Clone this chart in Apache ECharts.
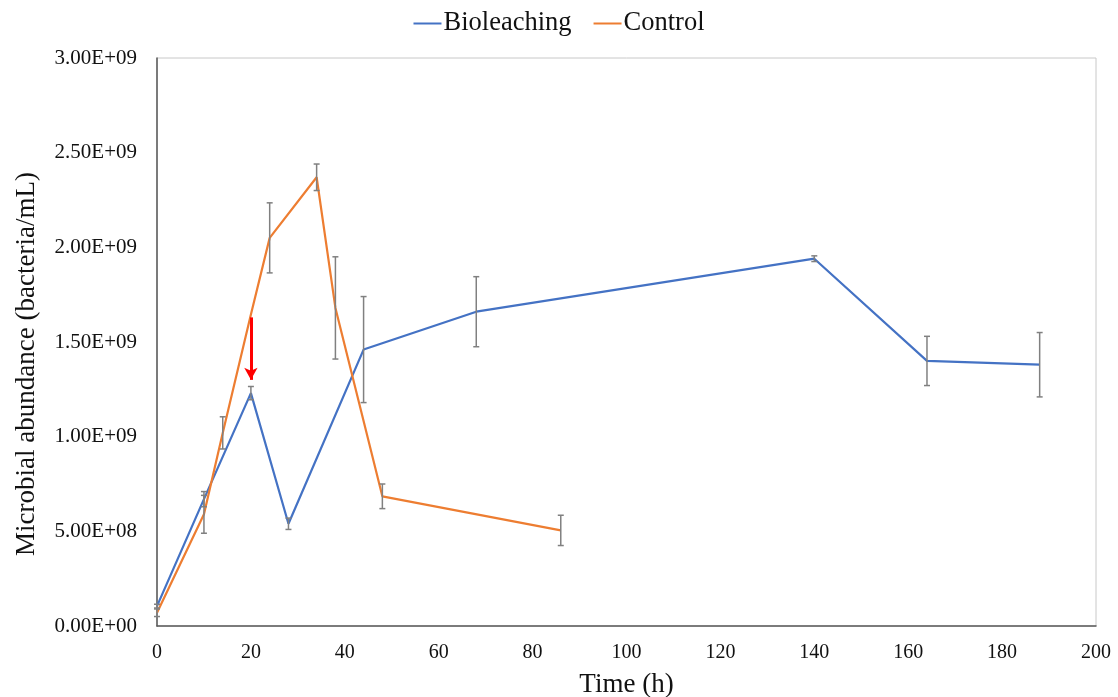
<!DOCTYPE html>
<html>
<head>
<meta charset="utf-8">
<script src="https://cdn.jsdelivr.net/npm/echarts@6/dist/echarts.min.js"></script>
<style>html,body{margin:0;padding:0;background:#fff;}#main{width:1118px;height:697px;}</style>
</head>
<body>
<div id="main"></div>
<script>
// Data (time in h, abundance in bacteria/mL)
var bioTime  = [0, 10, 20, 28, 44, 68, 140, 164, 188];
var bioValue = [1.05e8, 6.7e8, 1.23e9, 5.4e8, 1.46e9, 1.66e9, 1.94e9, 1.40e9, 1.38e9];
var bioErr   = [1.0e7, 4.0e7, 3.5e7, 3.0e7, 2.8e8, 1.85e8, 1.5e7, 1.3e8, 1.7e8];

var ctrlTime  = [0, 10, 14, 20, 24, 34, 38, 48, 86];
var ctrlValue = [7.0e7, 5.9e8, 1.02e9, 1.645e9, 2.05e9, 2.37e9, 1.68e9, 6.85e8, 5.05e8];
var ctrlErr   = [2.0e7, 1.0e8, 8.5e7, 0, 1.85e8, 7.0e7, 2.7e8, 6.5e7, 8.0e7];

var xTicks = [0, 20, 40, 60, 80, 100, 120, 140, 160, 180, 200];
var yTickLabels = ['0.00E+00','5.00E+08','1.00E+09','1.50E+09','2.00E+09','2.50E+09','3.00E+09'];

// Arrow annotation (at t = 20 h)
var arrowTime = 20, arrowFrom = 1.63e9, arrowTo = 1.30e9;

function pairs(t, v){ return t.map(function(x,i){ return [x, v[i]]; }); }
function errData(t, v, e){ return t.map(function(x,i){ return [x, v[i]-e[i], v[i]+e[i]]; }).filter(function(d,i){ return e[i] > 0; }); }

function errRender(params, api){
  var x = api.value(0), lo = api.value(1), hi = api.value(2);
  var p1 = api.coord([x, hi]), p2 = api.coord([x, lo]);
  var w = 3;
  var st = {stroke:'#808080', lineWidth:1.5};
  return {type:'group', children:[
    {type:'line', shape:{x1:p1[0],y1:p1[1],x2:p2[0],y2:p2[1]}, style:st},
    {type:'line', shape:{x1:p1[0]-w,y1:p1[1],x2:p1[0]+w,y2:p1[1]}, style:st},
    {type:'line', shape:{x1:p2[0]-w,y1:p2[1],x2:p2[0]+w,y2:p2[1]}, style:st}
  ]};
}

var font = 'Liberation Serif';
var chart = echarts.init(document.getElementById('main'));
chart.setOption({
  animation:false,
  textStyle:{fontFamily:font},
  legend:{
    top:5, left:'center',
    data:['Bioleaching','Control'],
    icon:'rect', itemWidth:28, itemHeight:2, itemGap:22,
    textStyle:{fontFamily:font, fontSize:26.5, color:'#111', padding:[0,0,0,-3]}
  },
  grid:{left:157, right:22, top:58, bottom:71, outerBoundsMode:'none', containLabel:false,
    show:true, borderColor:'#c8c8c8', borderWidth:1},
  xAxis:{
    type:'value', min:0, max:200, interval:20,
    name:'Time (h)', nameLocation:'middle', nameGap:45,
    nameTextStyle:{fontFamily:font, fontSize:27, color:'#111'},
    axisLine:{show:true, lineStyle:{color:'#595959', width:1.5}},
    axisTick:{show:false},
    splitLine:{show:false},
    axisLabel:{fontFamily:font, fontSize:20, color:'#111', margin:17,
      formatter:function(v){ return xTicks.indexOf(v) >= 0 ? String(v) : ''; }}
  },
  yAxis:{
    type:'value', min:0, max:3e9, interval:5e8,
    name:'Microbial abundance (bacteria/mL)', nameLocation:'middle', nameGap:117,
    nameTextStyle:{fontFamily:font, fontSize:27, color:'#111', padding:[0,44,0,0]},
    axisLine:{show:true, lineStyle:{color:'#595959', width:1.5}},
    axisTick:{show:false},
    splitLine:{show:false},
    axisLabel:{fontFamily:font, fontSize:21, color:'#111', margin:20,
      formatter:function(v){ return yTickLabels[Math.round(v/5e8)]; }}
  },
  series:[
    {name:'Bioleaching', type:'line', data:pairs(bioTime, bioValue), showSymbol:false, symbol:'none',
      lineStyle:{color:'#4472C4', width:2.2}, itemStyle:{color:'#4472C4'}, z:3,
      markLine:{silent:true, symbol:['none','arrow'], symbolSize:[10,12], label:{show:false},
        lineStyle:{color:'#ff0000', width:3, type:'solid'},
        data:[[{coord:[arrowTime, arrowFrom]},{coord:[arrowTime, arrowTo]}]]}
    },
    {name:'Control', type:'line', data:pairs(ctrlTime, ctrlValue), showSymbol:false, symbol:'none',
      lineStyle:{color:'#ED7D31', width:2.2}, itemStyle:{color:'#ED7D31'}, z:3},
    {name:'Bioleaching err', type:'custom', renderItem:errRender, data:errData(bioTime, bioValue, bioErr), z:4, silent:true},
    {name:'Control err', type:'custom', renderItem:errRender, data:errData(ctrlTime, ctrlValue, ctrlErr), z:4, silent:true}
  ]
});
</script>
</body>
</html>
